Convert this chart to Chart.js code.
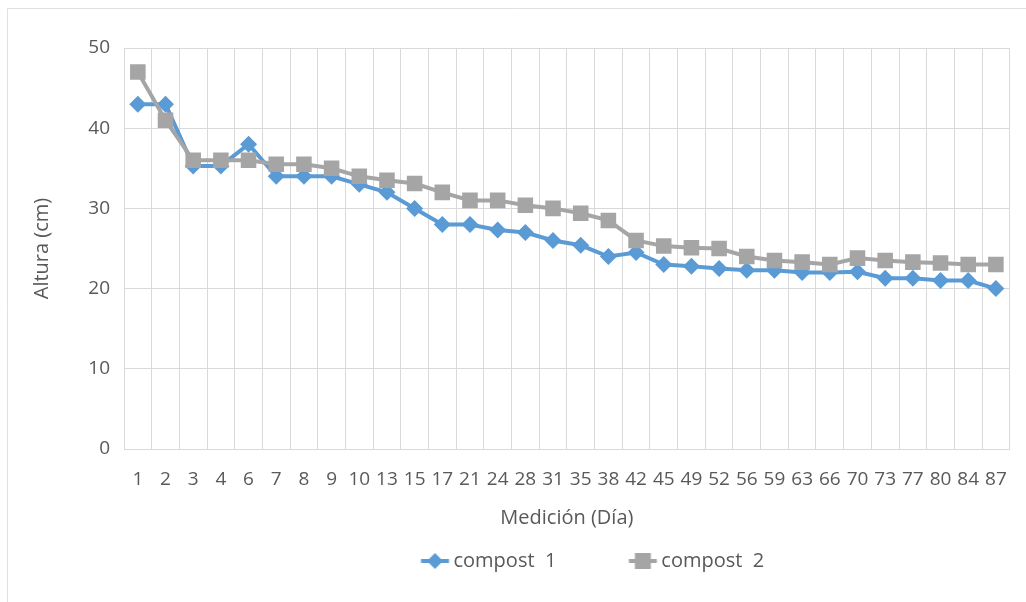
<!DOCTYPE html>
<html>
<head>
<meta charset="utf-8">
<script src="https://cdn.jsdelivr.net/npm/chart.js@4.4.1/dist/chart.umd.min.js"></script>
<style>
  html, body { margin: 0; padding: 0; background: #ffffff; }
  #wrap { position: relative; width: 1026px; height: 602px; }
  canvas { display: block; }
</style>
</head>
<body>
<div id="wrap"><canvas id="chart" width="1026" height="602"></canvas></div>
<script>
// Measurement days (x categories)
const dias = ['1','2','3','4','6','7','8','9','10','13','15','17','21','24','28','31','35','38','42','45','49','52','56','59','63','66','70','73','77','80','84','87'];

// Height in cm for each compost
const compost1 = [43, 43, 35.3, 35.3, 38, 34, 34, 34, 33, 32, 30, 28, 28, 27.3, 27, 26, 25.4, 24, 24.5, 23, 22.8, 22.5, 22.3, 22.3, 22, 22, 22.1, 21.3, 21.3, 21, 21, 20];
const compost2 = [47, 41, 36, 36, 36, 35.5, 35.5, 35, 34, 33.5, 33.1, 32, 31, 31, 30.4, 30, 29.4, 28.5, 26, 25.3, 25.1, 25, 24, 23.5, 23.3, 23, 23.8, 23.5, 23.3, 23.2, 23, 23];

// Value axis ticks
const yTicks = [0, 10, 20, 30, 40, 50];

const seriesNames = ['compost  1', 'compost  2'];
const BLUE = '#5B9BD5';
const GRAY = '#A5A5A5';
const TEXT = '#595959';
const GRID = '#d9d9d9';
const FONT = "'Open Sans', 'Noto Sans', sans-serif";

// Legend swatch: short line segment with the series marker on top
function legendSwatch(color, shape) {
  const c = document.createElement('canvas');
  const w = 100, h = 24;
  c.width = w; c.height = h;
  const g = c.getContext('2d');
  const cx = w - 21.5, cy = h / 2;
  g.strokeStyle = color;
  g.lineWidth = 4;
  g.beginPath();
  g.moveTo(cx - 14, cy);
  g.lineTo(cx + 14, cy);
  g.stroke();
  g.fillStyle = color;
  g.beginPath();
  if (shape === 'diamond') {
    g.moveTo(cx, cy - 8); g.lineTo(cx + 8, cy); g.lineTo(cx, cy + 8); g.lineTo(cx - 8, cy);
    g.closePath();
  } else {
    g.rect(cx - 8, cy - 8, 16, 16);
  }
  g.fill();
  return c;
}
const swatches = [legendSwatch(BLUE, 'diamond'), legendSwatch(GRAY, 'square')];

// Light frame around the chart object
const framePlugin = {
  id: 'frame',
  beforeDraw(chart) {
    const ctx = chart.ctx;
    ctx.save();
    ctx.strokeStyle = '#e0e0e0';
    ctx.lineWidth = 1;
    ctx.beginPath();
    ctx.moveTo(7.5, 602);
    ctx.lineTo(7.5, 8.5);
    ctx.lineTo(1026, 8.5);
    ctx.stroke();
    ctx.restore();
  }
};

new Chart(document.getElementById('chart'), {
  type: 'line',
  data: {
    labels: dias,
    datasets: [
      {
        label: seriesNames[0],
        data: compost1,
        borderColor: BLUE,
        backgroundColor: BLUE,
        borderWidth: 4,
        pointStyle: 'rectRot',
        pointRadius: 8.5,
        pointHoverRadius: 8.5,
        pointBorderWidth: 0,
        tension: 0,
        order: 1
      },
      {
        label: seriesNames[1],
        data: compost2,
        borderColor: GRAY,
        backgroundColor: GRAY,
        borderWidth: 4,
        pointStyle: 'rect',
        pointRadius: 11,
        pointHoverRadius: 11,
        pointBorderWidth: 0,
        tension: 0,
        order: 0
      }
    ]
  },
  options: {
    responsive: false,
    animation: false,
    events: [],
    layout: { padding: { top: 48, right: 16, left: 0, bottom: 21 } },
    plugins: {
      tooltip: { enabled: false },
      legend: {
        display: true,
        position: 'bottom',
        fullSize: false,
        labels: {
          usePointStyle: true,
          pointStyleWidth: 74,
          padding: 21,
          color: TEXT,
          font: { family: FONT, size: 20 },
          generateLabels(chart) {
            return chart.data.datasets.map((ds, i) => ({
              text: ds.label,
              datasetIndex: i,
              fillStyle: ds.backgroundColor,
              strokeStyle: ds.borderColor,
              lineWidth: 0,
              pointStyle: swatches[i],
              fontColor: TEXT,
              hidden: false
            }));
          }
        }
      }
    },
    scales: {
      x: {
        type: 'category',
        offset: true,
        grid: { offset: true, color: GRID, lineWidth: 1, drawTicks: false },
        border: { color: GRID, width: 1 },
        ticks: {
          color: TEXT,
          font: { family: FONT, size: 19 },
          padding: 19,
          maxRotation: 0,
          autoSkip: false
        },
        title: {
          display: true,
          text: 'Medición (Día)',
          color: TEXT,
          font: { family: FONT, size: 20 },
          padding: { top: 0, bottom: 0 }
        },
        afterFit(scale) { scale.height = 81; }
      },
      y: {
        min: yTicks[0],
        max: yTicks[yTicks.length - 1],
        grid: { color: GRID, lineWidth: 1, drawTicks: false },
        border: { display: false },
        afterBuildTicks(scale) { scale.ticks = yTicks.map(v => ({ value: v })); },
        ticks: {
          color: TEXT,
          font: { family: FONT, size: 19 },
          padding: 14
        },
        title: {
          display: true,
          text: 'Altura (cm)',
          color: TEXT,
          font: { family: FONT, size: 20 },
          padding: { top: 30, bottom: 0 }
        },
        afterFit(scale) { scale.width = 124; }
      }
    }
  },
  plugins: [framePlugin]
});
</script>
</body>
</html>
